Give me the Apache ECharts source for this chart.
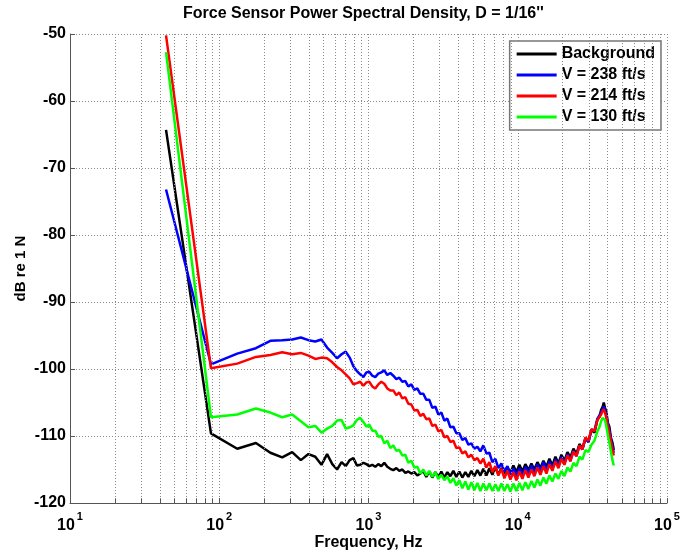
<!DOCTYPE html>
<html>
<head>
<meta charset="utf-8">
<script src="https://cdn.jsdelivr.net/npm/echarts@6/dist/echarts.min.js"></script>
<style>
  html, body { margin: 0; padding: 0; background: #fff; }
  #chart { width: 680px; height: 554px; }
</style>
</head>
<body>
<div id="chart"></div>
<script>
// frequency bins, Hz
var freq = [
  44, 88, 132, 176, 220, 264, 308, 352, 396, 440,
  484, 528, 572, 616, 660, 704, 748, 792, 836, 880,
  924, 968, 1012, 1060, 1110, 1163, 1218, 1276, 1336, 1400,
  1466, 1536, 1608, 1685, 1765, 1848, 1936, 2028, 2124, 2224,
  2330, 2440, 2556, 2677, 2804, 2937, 3076, 3222, 3375, 3535,
  3702, 3878, 4061, 4254, 4456, 4667, 4888, 5120, 5363, 5617,
  5883, 6162, 6454, 6760, 7080, 7416, 7768, 8136, 8522, 8926,
  9349, 9792, 10256, 10742, 11252, 11785, 12344, 12929, 13542, 14184,
  14857, 15561, 16299, 17072, 17881, 18729, 19617, 20547, 21521, 22541,
  23610, 24730, 25902, 27130, 28417, 29764, 31175, 32653, 34201, 35200,
  36200, 37000, 37700, 38400, 39200, 40100, 41100, 42100, 43100, 44000
];

// dB re 1 N
var background = [
  -64.3, -109.6, -111.9, -111.05, -112.5, -113.2, -112.4, -113.6, -112.7, -113.1,
  -114.3, -112.7, -114.2, -115.0, -113.9, -114.5, -113.6, -113.3, -114.4, -114.3,
  -114.0, -114.2, -114.5, -114.3, -114.6, -114.2, -114.5, -114.0, -114.6, -114.9,
  -115.1, -114.8, -115.2, -115.0, -115.5, -115.3, -115.6, -115.4, -115.9, -115.6,
  -115.2, -116.1, -115.3, -116.2, -115.4, -116.1, -115.3, -116.2, -115.4, -116.0,
  -115.2, -116.1, -115.3, -116.2, -115.4, -116.1, -115.2, -116.0, -115.1, -115.9,
  -114.9, -115.9, -114.8, -115.8, -114.7, -115.7, -114.8, -115.6, -114.6, -115.5,
  -114.4, -115.4, -114.3, -115.3, -114.2, -115.1, -114.1, -115.0, -113.9, -114.8,
  -113.7, -114.6, -113.4, -114.4, -113.1, -114.1, -112.8, -113.7, -112.4, -113.2,
  -111.9, -112.7, -111.2, -111.9, -110.4, -110.9, -109.1, -109.5, -107.5, -107.2,
  -106.1, -105.7, -105.0, -105.8, -106.3, -108.0, -108.6, -110.3, -111.0, -112.1
];

var v238 = [
  -73.2, -99.3, -97.7, -96.9, -95.8, -95.7, -95.6, -95.3, -95.7, -95.9,
  -95.6, -96.8, -97.6, -98.4, -97.8, -97.4, -98.3, -99.6, -100.3, -100.8,
  -101.2, -100.5, -100.4, -101.0, -101.2, -100.7, -100.5, -100.2, -100.9, -100.6,
  -101.0, -101.5, -101.3, -101.9, -101.8, -102.6, -102.3, -103.1, -102.9, -103.7,
  -103.7, -104.6, -104.6, -105.8, -105.6, -106.8, -106.5, -107.7, -107.4, -108.7,
  -108.6, -109.6, -109.6, -110.6, -110.3, -111.3, -111.1, -111.9, -111.6, -112.3,
  -111.4, -112.6, -112.5, -113.9, -113.4, -114.8, -114.1, -115.3, -114.5, -115.8,
  -114.8, -116.0, -114.8, -115.9, -114.6, -115.7, -114.4, -115.5, -114.2, -115.3,
  -113.9, -115.1, -113.8, -114.8, -113.5, -114.5, -113.1, -114.1, -112.7, -113.6,
  -112.2, -113.0, -111.4, -112.0, -110.3, -110.9, -109.0, -109.2, -107.4, -107.4,
  -106.5, -106.0, -105.6, -106.1, -106.9, -108.1, -109.2, -110.4, -111.6, -112.5
];

var v214 = [
  -50.2, -99.9, -99.2, -98.2, -97.9, -97.5, -97.8, -97.6, -98.0, -98.5,
  -98.3, -98.4, -99.0, -99.7, -100.2, -100.8, -101.4, -102.3, -102.1, -101.9,
  -102.5, -102.0, -101.9, -102.6, -102.9, -102.3, -101.9, -102.2, -102.9, -103.2,
  -103.2, -103.9, -103.5, -104.4, -104.2, -105.2, -105.3, -106.2, -106.1, -107.0,
  -106.7, -107.5, -107.4, -108.5, -108.3, -109.3, -109.1, -110.2, -110.0, -110.9,
  -110.7, -111.8, -111.7, -112.6, -112.3, -113.2, -112.8, -113.6, -113.3, -114.1,
  -113.4, -114.7, -113.9, -115.4, -114.5, -115.9, -114.9, -116.3, -115.2, -116.5,
  -115.4, -116.6, -115.3, -116.4, -115.1, -116.2, -115.0, -116.0, -114.7, -115.8,
  -114.5, -115.6, -114.2, -115.2, -113.8, -114.8, -113.4, -114.3, -112.9, -113.8,
  -112.3, -113.0, -111.4, -112.0, -110.2, -110.7, -109.0, -109.3, -107.6, -107.7,
  -106.8, -106.3, -106.0, -106.5, -107.3, -108.5, -109.6, -110.8, -112.0, -112.9
];

var v130 = [
  -52.7, -107.2, -106.8, -105.9, -106.5, -107.2, -106.8, -107.8, -108.7, -108.5,
  -109.5, -108.9, -108.5, -107.7, -107.6, -108.9, -108.7, -108.4, -107.6, -107.3,
  -107.9, -108.6, -108.3, -109.2, -109.2, -110.1, -110.0, -111.1, -110.7, -111.8,
  -111.4, -112.2, -112.1, -112.9, -112.8, -114.0, -113.7, -114.7, -114.6, -115.6,
  -115.0, -115.9, -115.2, -116.1, -115.4, -116.4, -115.8, -116.6, -116.0, -117.0,
  -116.3, -117.4, -116.6, -117.8, -116.8, -118.0, -116.9, -118.1, -117.0, -118.2,
  -117.1, -118.1, -117.1, -118.2, -117.2, -118.2, -117.1, -118.2, -117.2, -118.3,
  -117.1, -118.2, -117.0, -118.1, -116.9, -117.9, -116.7, -117.7, -116.5, -117.4,
  -116.2, -117.1, -115.9, -116.8, -115.6, -116.4, -115.2, -116.0, -114.7, -115.3,
  -114.0, -114.5, -113.1, -113.5, -112.1, -112.4, -111.3, -110.7, -109.3, -108.7,
  -107.8, -107.3, -107.2, -107.6, -108.5, -109.8, -111.0, -112.3, -113.6, -114.4
];

var seriesNames = ['Background', 'V = 238 ft/s', 'V = 214 ft/s', 'V = 130 ft/s'];
var seriesColors = ['#000000', '#0000ff', '#ff0000', '#00ff00'];
var seriesValues = [background, v238, v214, v130];

var FONT = '"Liberation Sans", Arial, Helvetica, sans-serif';
var GRID = { type: [1, 2], color: '#8a8a8a', width: 1 };

// minor log grid lines 20..90, 200..900, ...
var minorFreq = [];
for (var d = 10; d < 100000; d *= 10) {
  for (var k = 2; k <= 9; k++) minorFreq.push(d * k);
}

function pairs(vals) {
  return freq.map(function (f, i) { return [f, vals[i]]; });
}

var series = [{
  name: 'grid',
  type: 'line',
  data: [],
  z: 1,
  silent: true,
  markLine: {
    silent: true,
    symbol: 'none',
    label: { show: false },
    animation: false,
    data: minorFreq.map(function (f) {
      return { xAxis: f, lineStyle: GRID };
    }).concat(minorFreq.map(function (f) {
      return [
        { coord: [f, -120], lineStyle: { type: 'solid', color: '#555', width: 1 } },
        { coord: [f, -119.3] }
      ];
    }))
  }
}];

seriesNames.forEach(function (name, i) {
  series.push({
    name: name,
    type: 'line',
    data: pairs(seriesValues[i]),
    symbol: 'none',
    z: 3 + i,
    lineStyle: { color: seriesColors[i], width: 2.5 },
    itemStyle: { color: seriesColors[i] }
  });
});

var chart = echarts.init(document.getElementById('chart'));
chart.setOption({
  animation: false,
  backgroundColor: '#fff',
  title: {
    text: "Force Sensor Power Spectral Density, D = 1/16''",
    left: 183,
    top: 6,
    padding: 0,
    textStyle: { fontFamily: FONT, fontSize: 16, fontWeight: 'bold', color: '#000' }
  },
  legend: {
    data: seriesNames,
    orient: 'vertical',
    right: 19,
    top: 41,
    icon: 'rect',
    itemWidth: 40,
    itemHeight: 3,
    itemGap: 3,
    padding: [4, 6, 4, 7],
    backgroundColor: '#fff',
    borderColor: '#777',
    borderWidth: 1.5,
    borderRadius: 0,
    textStyle: { fontFamily: FONT, fontSize: 16, fontWeight: 'bold', color: '#000', lineHeight: 18 }
  },
  grid: { left: 70, right: 13, top: 34, bottom: 51, containLabel: false, outerBoundsMode: 'none' },
  xAxis: {
    type: 'log',
    logBase: 10,
    min: 10,
    max: 100000,
    name: 'Frequency, Hz',
    nameLocation: 'middle',
    nameGap: 32,
    nameMoveOverlap: false,
    nameTextStyle: { fontFamily: FONT, fontSize: 16, fontWeight: 'bold', color: '#000' },
    axisLine: { show: true, lineStyle: { color: '#555', width: 1 } },
    axisTick: { show: true, inside: true, length: 5, lineStyle: { color: '#555' } },
    splitLine: { show: true, lineStyle: GRID },
    axisLabel: {
      margin: 15,
      formatter: function (v) {
        return '{b|10}{e|' + Math.round(Math.log10(v)) + '}';
      },
      rich: {
        b: { fontFamily: FONT, fontSize: 16, fontWeight: 'bold', color: '#000', lineHeight: 16, verticalAlign: 'bottom' },
        e: { fontFamily: FONT, fontSize: 11, fontWeight: 'bold', color: '#000', lineHeight: 12, padding: [0, 0, 12, 2], verticalAlign: 'bottom' }
      }
    }
  },
  yAxis: {
    type: 'value',
    min: -120,
    max: -50,
    interval: 10,
    name: 'dB re 1 N',
    nameLocation: 'middle',
    nameGap: 42,
    nameMoveOverlap: false,
    nameTextStyle: { fontFamily: FONT, fontSize: 15, fontWeight: 'bold', color: '#000' },
    axisLine: { show: true, lineStyle: { color: '#555', width: 1 } },
    axisTick: { show: true, inside: true, length: 5, lineStyle: { color: '#555' } },
    splitLine: { show: true, lineStyle: GRID },
    axisLabel: { margin: 4, fontFamily: FONT, fontSize: 16, fontWeight: 'bold', color: '#000' }
  },
  series: series
});
</script>
</body>
</html>
